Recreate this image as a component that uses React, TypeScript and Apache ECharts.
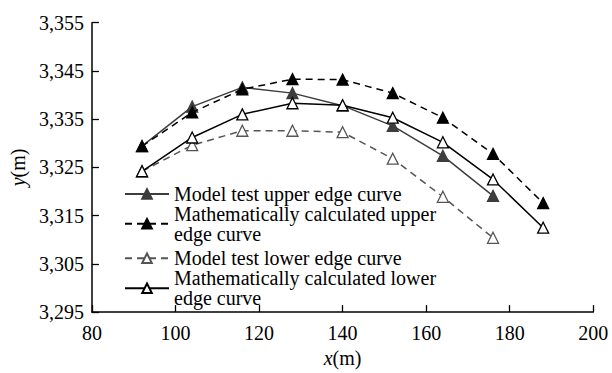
import React, { useEffect, useRef } from "react";
import * as echarts from "echarts";

const xValues = [92, 104, 116, 128, 140, 152, 164, 176, 188];
const modelUpper = [3329.4, 3337.6, 3341.6, 3340.4, 3337.8, 3333.6, 3327.4, 3319.1];
const mathUpper = [3329.4, 3336.4, 3341.2, 3343.3, 3343.2, 3340.4, 3335.3, 3327.8, 3317.6];
const modelLower = [3324.2, 3329.6, 3332.6, 3332.6, 3332.3, 3326.8, 3318.9, 3310.4];
const mathLower = [3324.2, 3331.2, 3336.0, 3338.3, 3337.9, 3335.3, 3330.2, 3322.5, 3312.5];
const seriesNames = [
  "Model test upper edge curve",
  "Mathematically calculated upper\nedge curve",
  "Model test lower edge curve",
  "Mathematically calculated lower\nedge curve",
];
const xTicks = { min: 80, max: 200, interval: 20 };
const yTicks = { min: 3295, max: 3355, interval: 10 };

const FONT = "Times New Roman, Liberation Serif, serif";

function pairs(ys: number[]) {
  return ys.map((y, i) => [xValues[i], y]);
}

export default function App() {
  const ref = useRef<HTMLDivElement>(null);
  useEffect(() => {
    if (!ref.current) return;
    const chart = echarts.init(ref.current, null, { renderer: "svg" });
    const legendTops = [184, 203.8, 248.3, 268.3];
    const styles = [
      { color: "#3d3d3d", fill: "#3d3d3d", type: "solid" },
      { color: "#000000", fill: "#000000", type: [7, 5] },
      { color: "#555555", fill: "#ffffff", type: [7, 5] },
      { color: "#000000", fill: "#ffffff", type: "solid" },
    ];
    const datasets = [modelUpper, mathUpper, modelLower, mathLower];
    chart.setOption({
      animation: false,
      textStyle: { fontFamily: FONT },
      grid: { left: 89.3, right: 18.7, top: 22.7, bottom: 57.7 },
      xAxis: {
        type: "value",
        min: xTicks.min,
        max: xTicks.max,
        interval: xTicks.interval,
        name: "{i|x}(m)",
        nameLocation: "middle",
        nameGap: 33,
        nameTextStyle: {
          fontFamily: FONT,
          fontSize: 20,
          color: "#000",
          rich: { i: { fontStyle: "italic", fontFamily: FONT, fontSize: 20, color: "#000" } },
        },
        axisLine: { lineStyle: { color: "#000", width: 1.5 } },
        axisTick: { inside: true, length: 7, lineStyle: { color: "#000", width: 1.3 } },
        axisLabel: { fontFamily: FONT, fontSize: 20, color: "#000", margin: 11 },
        splitLine: { show: false },
      },
      yAxis: {
        type: "value",
        min: yTicks.min,
        max: yTicks.max,
        interval: yTicks.interval,
        name: "{i|y}(m)",
        nameLocation: "middle",
        nameGap: 54,
        nameTextStyle: {
          fontFamily: FONT,
          fontSize: 20,
          color: "#000",
          rich: { i: { fontStyle: "italic", fontFamily: FONT, fontSize: 20, color: "#000" } },
        },
        axisLine: { show: true, lineStyle: { color: "#000", width: 1.5 } },
        axisTick: { show: true, inside: true, length: 7, lineStyle: { color: "#000", width: 1.3 } },
        axisLabel: {
          fontFamily: FONT,
          fontSize: 20,
          color: "#000",
          margin: 8,
          formatter: (v: number) => v.toLocaleString("en-US"),
        },
        splitLine: { show: false },
      },
      legend: seriesNames.map((n, i) => ({
        data: [n],
        orient: "vertical",
        left: 124,
        top: legendTops[i],
        padding: 0,
        itemWidth: 44,
        itemHeight: 12,
        textStyle: { fontFamily: FONT, fontSize: 20, color: "#000", lineHeight: 20 },
      })),
      series: datasets.map((d, i) => ({
        type: "line",
        name: seriesNames[i],
        data: pairs(d),
        symbol: "triangle",
        symbolSize: 11,
        lineStyle: { color: styles[i].color, width: 1.5, type: styles[i].type },
        itemStyle: { color: styles[i].fill, borderColor: styles[i].color, borderWidth: 1.3 },
        z: 2 + i,
      })),
    });
    return () => chart.dispose();
  }, []);
  return (
    <div
      ref={ref}
      style={{ position: "fixed", left: 0, top: 0, width: 612, height: 373, background: "#fff" }}
    />
  );
}
